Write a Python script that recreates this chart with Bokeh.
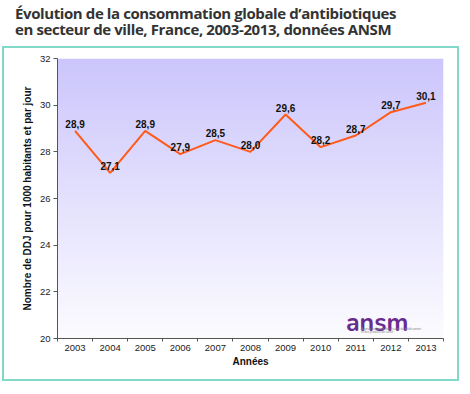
import numpy as np
from bokeh.plotting import figure
from bokeh.layouts import column
from bokeh.models import Div, Range1d, FixedTicker, Label
from bokeh.core.properties import value
from bokeh.embed import file_html
from bokeh.resources import INLINE

years = [2003, 2004, 2005, 2006, 2007, 2008, 2009, 2010, 2011, 2012, 2013]
ddj = [28.9, 27.1, 28.9, 27.9, 28.5, 28.0, 29.6, 28.2, 28.7, 29.7, 30.1]
labels = [f"{v:.1f}".replace(".", ",") for v in ddj]
y_ticks = [20, 22, 24, 26, 28, 30, 32]
title_lines = ["Évolution de la consommation globale d’antibiotiques",
               "en secteur de ville, France, 2003-2013, données ANSM"]

div = Div(text="<br>".join(title_lines), width=454, height=36,
          styles={"font-family": "Open Sans", "font-weight": "700",
                  "font-size": "15px", "line-height": "16px", "color": "#333333",
                  "padding-left": "10px", "letter-spacing": "-0.4px"})

p = figure(width=453, height=331, output_backend="svg", toolbar_location=None,
           x_range=Range1d(2002.5, 2013.5), y_range=Range1d(20, 32),
           min_border_left=53, min_border_top=10, min_border_right=14, min_border_bottom=41,
           styles={"outline": "2px solid #82d9c9", "margin-left": "4px", "margin-top": "2px"})
p.background_fill_color = "white"
p.border_fill_color = "white"
p.outline_line_color = None
p.xgrid.visible = False
p.ygrid.visible = False

# background gradient (lavender at top fading to white)
n = 256
t = np.linspace(0, 1, n)[:, None]
top = np.array([204, 198, 252])
bot = np.array([252, 252, 255])
rgb = bot + (top - bot) * t
img = np.zeros((n, 1), dtype=np.uint32)
view = img.view(dtype=np.uint8).reshape((n, 1, 4))
view[:, :, 0] = rgb[:, 0:1].astype(np.uint8)
view[:, :, 1] = rgb[:, 1:2].astype(np.uint8)
view[:, :, 2] = rgb[:, 2:3].astype(np.uint8)
view[:, :, 3] = 255
p.image_rgba(image=[img], x=2002.5, y=20, dw=11, dh=12)

p.line(years, ddj, line_color="#ff5a1a", line_width=2)
p.text(x=years, y=ddj, text=labels, text_font=value("Liberation Sans"),
       text_font_style="bold", text_font_size="10px", text_color="#111111",
       text_align="center", text_baseline="bottom", y_offset=-3)

# logo
p.add_layout(Label(x=2010.72, y=20.68, text="ansm", text_font="Nunito",
                   text_font_size="25px", text_font_style="bold", text_color="#6a2b8e",
                   text_baseline="alphabetic"))
p.add_layout(Label(x=2011.15, y=20.36, text="Agence nationale de sécurité du médicament",
                   text_font="Liberation Sans", text_font_size="3px", text_color="#888888"))
p.add_layout(Label(x=2011.15, y=20.2, text="et des produits de santé",
                   text_font="Liberation Sans", text_font_size="3px", text_color="#888888"))

xa = p.xaxis[0]
xa.ticker = FixedTicker(ticks=years, minor_ticks=[2002.5 + i for i in range(12)])
xa.major_label_overrides = {y: str(y) for y in years}
xa.major_tick_out = 0
xa.major_tick_in = 0
xa.minor_tick_out = 3
xa.minor_tick_in = 0
xa.axis_label = "Années"
ya = p.yaxis[0]
ya.ticker = FixedTicker(ticks=y_ticks, minor_ticks=[])
ya.major_tick_out = 4
ya.major_tick_in = 0
ya.axis_label = "Nombre de DDJ pour 1000 habitants et par jour"
for ax in (xa, ya):
    ax.axis_line_color = "#555555"
    ax.major_tick_line_color = "#555555"
    ax.minor_tick_line_color = "#555555"
    ax.major_label_text_font = "Liberation Sans"
    ax.major_label_text_font_size = "9.5px"
    ax.major_label_text_color = "#222222"
    ax.axis_label_text_font = "Liberation Sans"
    ax.axis_label_text_font_size = "10px"
    ax.axis_label_text_font_style = "bold"
    ax.axis_label_text_color = "#111111"
xa.major_label_standoff = 3
xa.axis_label_standoff = 2
ya.major_label_standoff = 3
ya.axis_label_standoff = 4

layout = column(div, p, spacing=0)
open("out.html", "w").write(file_html(layout, INLINE))
